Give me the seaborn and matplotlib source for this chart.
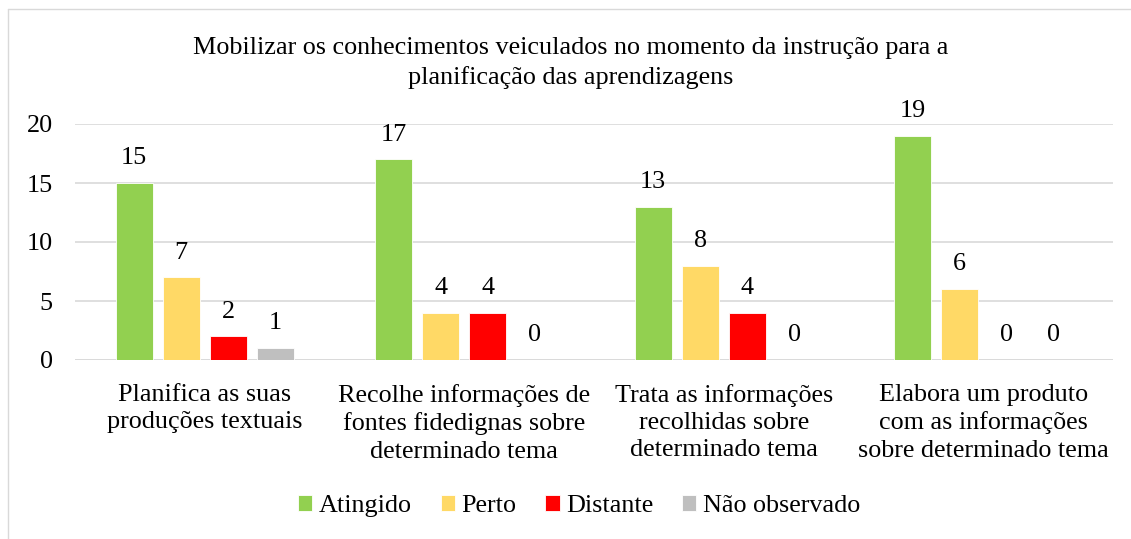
import matplotlib
matplotlib.use('Agg')
import matplotlib.pyplot as plt
from matplotlib.lines import Line2D
import seaborn as sns
import pandas as pd

categories = [
    "Planifica as suas\nproduções textuais",
    "Recolhe informações de\nfontes fidedignas sobre\ndeterminado tema",
    "Trata as informações\nrecolhidas sobre\ndeterminado tema",
    "Elabora um produto\ncom as informações\nsobre determinado tema",
]
series = ["Atingido", "Perto", "Distante", "Não observado"]
atingido = [15, 17, 13, 19]
perto = [7, 4, 8, 6]
distante = [2, 4, 4, 0]
nao_observado = [1, 0, 0, 0]
colors = ["#92D050", "#FFD966", "#FF0000", "#BFBFBF"]
title = ("Mobilizar os conhecimentos veiculados no momento da instrução para a\n"
         "planificação das aprendizagens")

rows = []
for name, vals in zip(series, [atingido, perto, distante, nao_observado]):
    for cat, v in zip(categories, vals):
        rows.append({"categoria": cat, "nivel": name, "valor": v})
df = pd.DataFrame(rows)

sns.set_theme(style="white")
plt.rcParams['font.family'] = ['Liberation Serif', 'DejaVu Serif']
plt.rcParams['text.color'] = 'black'
fs = 18.8

fig = plt.figure(figsize=(11.31, 5.39), dpi=100)
ax = fig.add_axes([75 / 1131, 1 - 360 / 539, (1113 - 75) / 1131, (360 - 124) / 539])

sns.barplot(data=df, x="categoria", y="valor", hue="nivel", order=categories,
            hue_order=series, palette=colors, saturation=1, width=0.725, gap=0.21,
            edgecolor="white", linewidth=0.6, ax=ax, legend=True)

ax.set_ylim(0, 20)
ax.set_yticks([0, 5, 10, 15, 20])
ax.yaxis.grid(True, color="#D9D9D9", linewidth=1.2)
ax.set_axisbelow(True)
for s in ax.spines.values():
    s.set_visible(False)
ax.axhline(0, color="#D9D9D9", linewidth=1.2, zorder=0)
ax.tick_params(axis="both", length=0, labelsize=fs, colors="black")
ax.tick_params(axis="y", pad=16)
ax.tick_params(axis="x", pad=17)
ax.set_xlabel("")
ax.set_ylabel("")
plt.setp(ax.get_xticklabels(), linespacing=1.32)

for cont in ax.containers:
    ax.bar_label(cont, fmt="%d", padding=10, fontsize=fs, color="black", clip_on=False)

fig.text(0.505, 1 - 63 / 539, title, ha="center", va="center", fontsize=fs,
         linespacing=1.35, color="black")

handles, labels = ax.get_legend_handles_labels()
ax.legend_.remove()
fig.legend(handles, labels, loc="center", bbox_to_anchor=(0.512, 1 - 506 / 539),
           ncol=4, frameon=False, fontsize=fs, handlelength=0.55,
           handleheight=0.55, handletextpad=0.25, columnspacing=1.1)

# outer chart border
fig.add_artist(Line2D([7.5 / 1131, 7.5 / 1131], [0, 1 - 9 / 539], color="#D9D9D9",
                      linewidth=1, transform=fig.transFigure))
fig.add_artist(Line2D([7.5 / 1131, 1], [1 - 9 / 539, 1 - 9 / 539], color="#D9D9D9",
                      linewidth=1, transform=fig.transFigure))

fig.savefig("out.png", dpi=100, facecolor="white")
